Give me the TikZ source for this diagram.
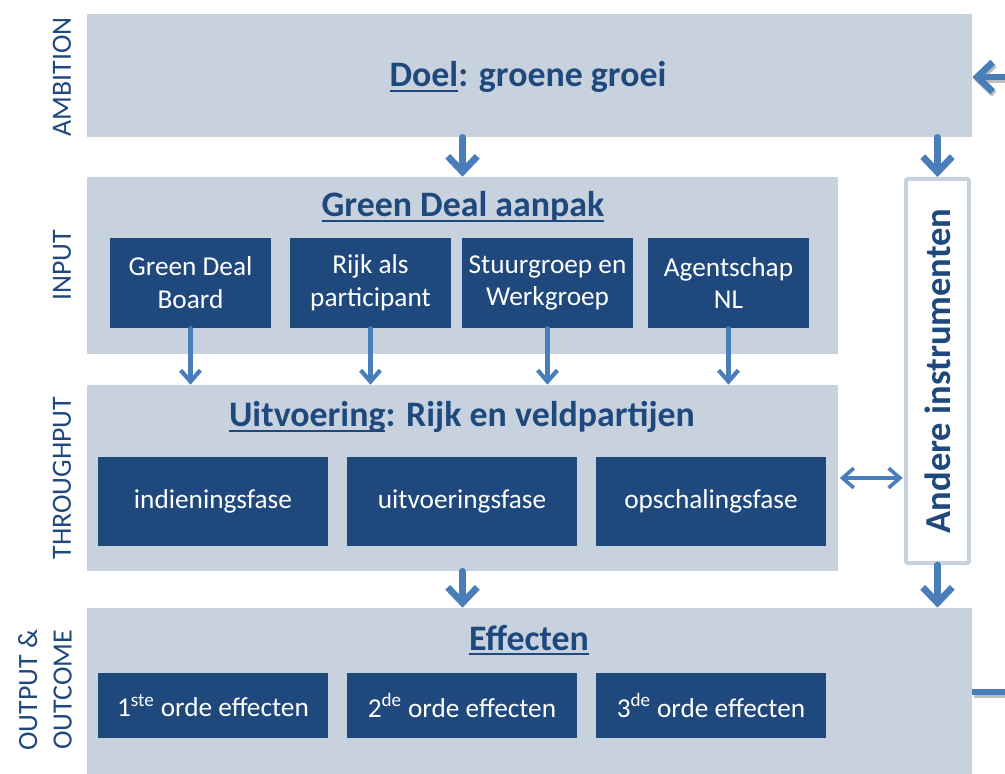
\documentclass[tikz,border=0pt]{standalone}
\usepackage{fontspec}
\setmainfont{Carlito}
\usepackage{tikz}
\usetikzlibrary{arrows.meta}
\definecolor{bandgrey}{HTML}{C8D2DF}
\definecolor{dblue}{HTML}{1F497D}
\definecolor{ablue}{HTML}{4A7EBB}
\newcommand{\dul}[1]{\setbox0\hbox{#1}\rlap{\rule[-3.6pt]{\wd0}{1.4pt}}\box0}

\begin{document}
\begin{tikzpicture}[x=0.025cm,y=-0.025cm,
    band/.style={fill=bandgrey,inner sep=0pt},
    blok/.style={fill=dblue,text=white,inner sep=0pt,align=center,font=\fontsize{19.4}{23.4}\selectfont},
    ttl/.style={text=dblue,font=\fontsize{25.5}{30}\selectfont\bfseries},
    side/.style={text=dblue,rotate=90,align=center,font=\fontsize{19.8}{24.5}\selectfont},
    big/.style={draw=ablue,line width=4.8pt,line cap=round,line join=round,-{Straight Barb[length=11pt,width=21pt]}},
    small/.style={draw=ablue,line width=3pt,line cap=round,line join=round,-{Straight Barb[length=8pt,width=14pt]}},
    dbl/.style={small,line width=2.6pt,{Straight Barb[length=8pt,width=14pt]}-{Straight Barb[length=8pt,width=14pt]}},
    shade/.style={draw=black,opacity=0.25,transform canvas={shift={(1pt,-1.8pt)}}}]
        \useasboundingbox (0,0) rectangle (1005,774);
        \clip (0,0) rectangle (1005,774);
        \node[band,minimum width=22.125cm,minimum height=3.075cm] (amb) at (529.5,75.5) {};
        \node[band,minimum width=18.775cm,minimum height=4.425cm] (inp) at (462.5,265.5) {};
        \node[band,minimum width=18.775cm,minimum height=4.65cm] (thr) at (462.5,478) {};
        \node[band,minimum width=22.125cm,minimum height=4.5cm] (outp) at (529.5,698) {};
        \node[draw=bandgrey,fill=white,line width=2.8pt,rounded corners=1pt,minimum width=1.575cm,minimum height=9.6cm,
              label={[rotate=90,text=dblue,font=\fontsize{26}{30}\selectfont\bfseries]center:Andere instrumenten}] (oth) at (937.5,371) {};
        \node[ttl] (t1) at (528,77) {\dul{Doel}: groene groei};
        \node[ttl] (t2) at (463,207) {\dul{Green Deal aanpak}};
        \node[ttl] (t3) at (462,417) {\dul{Uitvoering}: Rijk en veldpartijen};
        \node[ttl] (t4) at (529,640) {\dul{Effecten}};
        \node[side] (lab1) at (62,77) {AMBITION};
        \node[side] (lab2) at (62,265) {INPUT};
        \node[side] (lab3) at (62,478) {THROUGHPUT};
        \node[side] (lab4) at (45,690) {OUTPUT \&\\OUTCOME};
        \node[blok,minimum width=4.025cm,minimum height=2.25cm] (in1) at (190.5,283) {Green Deal\\Board};
        \node[blok,minimum width=4.025cm,minimum height=2.25cm] (in2) at (370.5,283) {Rijk als\\participant};
        \node[blok,minimum width=4.275cm,minimum height=2.25cm] (in3) at (547.5,283) {Stuurgroep en\\Werkgroep};
        \node[blok,minimum width=4.025cm,minimum height=2.25cm] (in4) at (728.5,283) {Agentschap\\NL};
        \node[blok,minimum width=5.75cm,minimum height=2.225cm] (th1) at (213,501.5) {indieningsfase};
        \node[blok,minimum width=5.75cm,minimum height=2.225cm] (th2) at (462,501.5) {uitvoeringsfase};
        \node[blok,minimum width=5.75cm,minimum height=2.225cm] (th3) at (711,501.5) {opschalingsfase};
        \node[blok,minimum width=5.75cm,minimum height=1.625cm] (ef1) at (213,705.5) {1\textsuperscript{ste} orde effecten};
        \node[blok,minimum width=5.75cm,minimum height=1.625cm] (ef2) at (462,705.5) {2\textsuperscript{de} orde effecten};
        \node[blok,minimum width=5.75cm,minimum height=1.625cm] (ef3) at (711,705.5) {3\textsuperscript{de} orde effecten};
        \coordinate (fb1) at (1020,77);
        \coordinate (fb2) at (1020,692);
        \draw[big] (amb.south -| inp.north) -- (inp.north);
        \draw[big] (amb.south -| oth.north) -- (oth.north);
        \draw[big] (thr.south) -- (thr.south |- outp.north);
        \draw[big] (oth.south) -- (oth.south |- outp.north);
        \foreach \b in {in1,in2,in3,in4}
            \draw[small] (\b.south) -- (\b.south |- thr.north);
        \draw[dbl,shorten <=1pt,shorten >=1pt] (thr.east) -- (thr.east -| oth.west);
        \draw[big,shade] (fb1) -- (amb.east |- fb1);
        \draw[big] (fb1) -- (amb.east |- fb1);
        \draw[shade,line width=4.3pt] (fb2 -| outp.east) -- (fb2);
        \draw[ablue,line width=4.3pt] (fb2 -| outp.east) -- (fb2);
\end{tikzpicture}
\end{document}
